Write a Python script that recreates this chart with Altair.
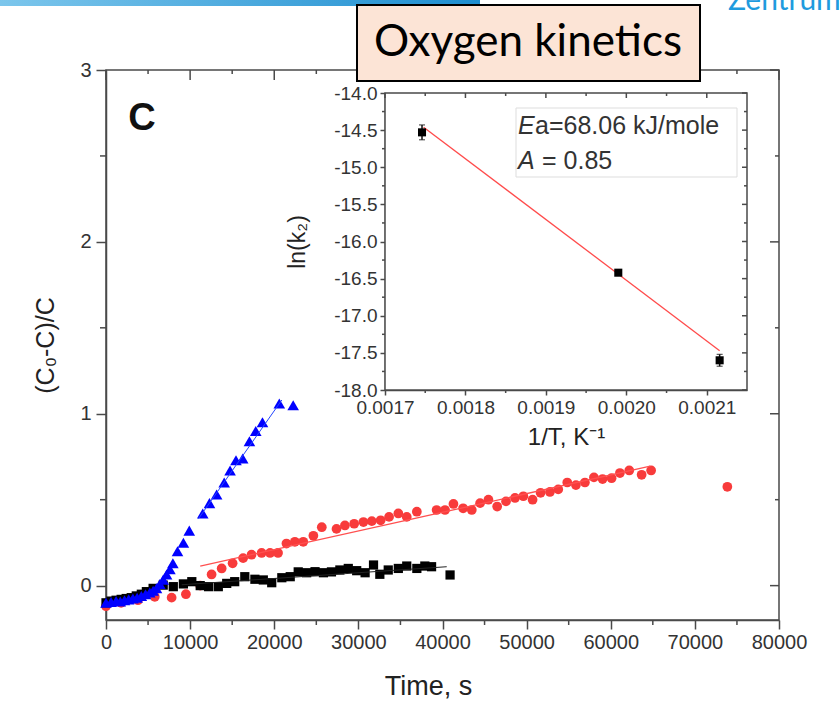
import altair as alt
import pandas as pd

# ---------------- main panel data ----------------
blue_t = [0, 600, 1200, 1700, 2200, 2700, 3200, 3700, 4200, 4700, 5200, 5600, 6000, 6400, 6800,
          7200, 7600, 7950, 8500, 9200, 9900, 11500, 12300, 13150, 14050, 14750, 15450, 16250,
          17050, 17800, 18600, 20600, 22250]
blue_v = [-0.10, -0.095, -0.09, -0.092, -0.085, -0.08, -0.075, -0.07, -0.06, -0.05, -0.04, -0.03,
          -0.015, 0.01, 0.035, 0.065, 0.095, 0.13, 0.20, 0.25, 0.32, 0.42, 0.48, 0.53, 0.60, 0.67,
          0.73, 0.74, 0.84, 0.90, 0.95, 1.06, 1.05]
blue_fit_t = [11000, 20900]
blue_fit_v = [0.39, 1.08]

red_t = [0, 1800, 3800, 5800, 7800, 9500, 11200, 12550, 13750, 15050, 16300, 17300, 18500, 19500,
         20450, 21450, 22450, 23450, 24650, 25650, 27400, 28400, 29500, 30600, 31600, 32650, 33650,
         34750, 35750, 36950, 39300, 40300, 41300, 42450, 43480, 44470, 45460, 46500, 47550, 48620,
         49610, 50710, 51660, 52770, 53760, 54830, 55860, 56930, 58000, 59030, 60100, 61090, 62200,
         63670, 64800, 73860]
red_v = [-0.12, -0.10, -0.085, -0.065, -0.07, -0.05, 0.0, 0.065, 0.10, 0.13, 0.16, 0.18, 0.19, 0.19,
         0.19, 0.245, 0.255, 0.255, 0.29, 0.34, 0.33, 0.35, 0.36, 0.37, 0.375, 0.38, 0.40,
         0.42, 0.40, 0.43, 0.44, 0.44, 0.475, 0.45, 0.44, 0.48, 0.50, 0.46, 0.49, 0.51,
         0.52, 0.50, 0.54, 0.545, 0.56, 0.60, 0.585, 0.60, 0.63, 0.62, 0.625, 0.655, 0.67,
         0.645, 0.67, 0.575]
red_fit_t = [11200, 64700]
red_fit_v = [0.114, 0.695]

black_t = [0, 600, 1200, 1800, 2400, 3000, 3600, 4200, 4800, 5600, 6800, 8000, 9200, 10200, 11200,
           12200, 13350, 14350, 15300, 16500, 17700, 18700, 19700, 20900, 21900, 22850, 23850,
           24850, 25850, 26800, 27800, 28800, 29800, 30800, 31800, 32550, 33550, 34750, 35750,
           36950, 37900, 38700, 40900]
black_v = [-0.10, -0.09, -0.085, -0.08, -0.075, -0.07, -0.06, -0.05, -0.035, -0.016, 0.003, -0.006,
           0.01, 0.023, 0.0, -0.006, -0.006, 0.013, 0.023, 0.052, 0.037, 0.033, 0.017, 0.046,
           0.052, 0.08, 0.075, 0.081, 0.075, 0.08, 0.091, 0.10, 0.087, 0.075, 0.12, 0.066,
           0.091, 0.10, 0.114, 0.10, 0.114, 0.11, 0.062]
black_fit_t = [9000, 40500]
black_fit_v = [0.005, 0.11]

main_x_major = [0, 10000, 20000, 30000, 40000, 50000, 60000, 70000, 80000]
main_x_minor = [5000, 15000, 25000, 35000, 45000, 55000, 65000, 75000]
main_y_major = [0, 1, 2, 3]
main_y_minor = [0.5, 1.5, 2.5]

# ---------------- inset data ----------------
inset_x = [0.001746, 0.00199, 0.002116]
inset_y = [-14.53, -16.42, -17.60]
inset_err = [0.10, 0.03, 0.08]
inset_fit_x = [0.001748, 0.002116]
inset_fit_y = [-14.46, -17.47]

inset_x_major = [0.0017, 0.0018, 0.0019, 0.0020, 0.0021]
inset_x_minor = [0.00175, 0.00185, 0.00195, 0.00205]
inset_y_major = [-18.0, -17.5, -17.0, -16.5, -16.0, -15.5, -15.0, -14.5, -14.0]
inset_y_minor = [-17.75, -17.25, -16.75, -16.25, -15.75, -15.25, -14.75, -14.25]

W, H = 673, 550
FONT = "Liberation Sans"
AX = "#4a4a4a"

# ---------------- main panel ----------------
mx_scale = alt.Scale(domain=[0, 80000], nice=False, zero=False)
my_scale = alt.Scale(domain=[-0.2, 3], nice=False, zero=False)
mx_axis = alt.Axis(orient="bottom", values=main_x_major, format="d", labelFontSize=20,
                   tickSize=9, labelPadding=3, title="Time, s", titleFontSize=27,
                   titlePadding=21, titleX=322, titleAlign="center",
                   labelFlush=False, labelOverlap=False)
my_axis = alt.Axis(orient="left", values=main_y_major, format="d", labelFontSize=20,
                   tickSize=10, labelPadding=5, title="(C₀-C)/C", titleFontSize=25,
                   titlePadding=21)
MX = lambda f="t": alt.X(f"{f}:Q", scale=mx_scale, axis=mx_axis)
MY = lambda f="v": alt.Y(f"{f}:Q", scale=my_scale, axis=my_axis)

def frame(**cols):
    return pd.DataFrame(cols)

red_pts = alt.Chart(frame(t=red_t, v=red_v)).mark_point(
    shape="circle", filled=True, size=95, color="#F83B3B", opacity=1).encode(x=MX(), y=MY())
red_line = alt.Chart(frame(t=red_fit_t, v=red_fit_v)).mark_line(
    color="#FF5050", strokeWidth=1.3).encode(x=MX(), y=MY())
black_pts = alt.Chart(frame(t=black_t, v=black_v)).mark_point(
    shape="square", filled=True, size=85, color="#000000", opacity=1).encode(x=MX(), y=MY())
black_line = alt.Chart(frame(t=black_fit_t, v=black_fit_v)).mark_line(
    color="#222222", strokeWidth=1).encode(x=MX(), y=MY())
blue_pts = alt.Chart(frame(t=blue_t, v=blue_v)).mark_point(
    shape="triangle-up", filled=True, size=135, color="#0000FF", opacity=1).encode(x=MX(), y=MY())
blue_line = alt.Chart(frame(t=blue_fit_t, v=blue_fit_v)).mark_line(
    color="#2244FF", strokeWidth=1).encode(x=MX(), y=MY())

tick_style = dict(color=AX, strokeWidth=1.5)
bot_minor = alt.Chart(frame(t=main_x_minor)).mark_rule(**tick_style).encode(
    x=MX(), y=alt.value(H), y2=alt.value(H + 5))
top_major = alt.Chart(frame(t=main_x_major)).mark_rule(**tick_style).encode(
    x=MX(), y=alt.value(0), y2=alt.value(10))
top_minor = alt.Chart(frame(t=main_x_minor)).mark_rule(**tick_style).encode(
    x=MX(), y=alt.value(0), y2=alt.value(4))
left_minor = alt.Chart(frame(v=main_y_minor)).mark_rule(**tick_style).encode(
    y=MY(), x=alt.value(0), x2=alt.value(-6))
right_major = alt.Chart(frame(v=main_y_major)).mark_rule(**tick_style).encode(
    y=MY(), x=alt.value(W), x2=alt.value(W - 9))
right_minor = alt.Chart(frame(v=main_y_minor)).mark_rule(**tick_style).encode(
    y=MY(), x=alt.value(W), x2=alt.value(W - 4))

main = alt.layer(red_pts, red_line, black_pts, black_line, blue_pts, blue_line,
                 bot_minor, top_major, top_minor, left_minor, right_major, right_minor)

# ---------------- inset panel ----------------
IX0, IX1 = 279, 641      # pixel extent of inset plot (x)
IY0, IY1 = 23, 320       # pixel extent of inset plot (y, top/bottom)
ix_scale = alt.Scale(domain=[0.0017, 0.00215], range=[IX0, IX1], nice=False, zero=False)
iy_scale = alt.Scale(domain=[-18, -14], range=[IY1, IY0], nice=False, zero=False)
ix_axis = alt.Axis(orient="bottom", offset=IY1 - H, values=inset_x_major, format=".4f",
                   labelFontSize=19, tickSize=5, labelPadding=3, title="1/T, K⁻¹",
                   titleFontSize=24, titlePadding=8, labelFlush=False, labelOverlap=False)
iy_axis = alt.Axis(orient="left", offset=-IX0, values=inset_y_major,
                   labelExpr="replace(format(datum.value, '.1f'), '\u2212', '-')",
                   labelFontSize=19, tickSize=5, labelPadding=3, title="ln(k₂)",
                   titleFontSize=23, titlePadding=24, labelFlush=False, labelOverlap=False)
IX = lambda f="a": alt.X(f"{f}:Q", scale=ix_scale, axis=ix_axis)
IY = lambda f="b": alt.Y(f"{f}:Q", scale=iy_scale, axis=iy_axis)

inset_df = frame(a=inset_x, b=inset_y,
                 lo=[y - e for y, e in zip(inset_y, inset_err)],
                 hi=[y + e for y, e in zip(inset_y, inset_err)])

inset_bg = alt.Chart(frame(a=[0.0017], a2=[0.00215], b=[-18.0], b2=[-14.0])).mark_rect(
    fill="white", stroke=AX, strokeWidth=1.5).encode(
    x=IX(), x2="a2:Q", y=IY(), y2="b2:Q")
inset_fit = alt.Chart(frame(a=inset_fit_x, b=inset_fit_y)).mark_line(
    color="#FF4B4B", strokeWidth=1.3).encode(x=IX(), y=IY())
inset_err_rule = alt.Chart(inset_df).mark_rule(color="#111", strokeWidth=1.5).encode(
    x=IX(), y=IY("lo"), y2="hi:Q")
inset_cap_lo = alt.Chart(inset_df).mark_tick(orient="horizontal", size=6, thickness=1.2,
                                             color="#111").encode(x=IX(), y=IY("lo"))
inset_cap_hi = alt.Chart(inset_df).mark_tick(orient="horizontal", size=6, thickness=1.2,
                                             color="#111").encode(x=IX(), y=IY("hi"))
inset_pts = alt.Chart(inset_df).mark_point(shape="square", filled=True, size=65,
                                           color="#000", opacity=1).encode(x=IX(), y=IY())

i_top_major = alt.Chart(frame(a=inset_x_major)).mark_rule(**tick_style).encode(
    x=IX(), y=alt.value(IY0), y2=alt.value(IY0 + 5))
i_top_minor = alt.Chart(frame(a=inset_x_minor)).mark_rule(**tick_style).encode(
    x=IX(), y=alt.value(IY0), y2=alt.value(IY0 + 3))
i_bot_minor = alt.Chart(frame(a=inset_x_minor)).mark_rule(**tick_style).encode(
    x=IX(), y=alt.value(IY1), y2=alt.value(IY1 + 3))
i_left_minor = alt.Chart(frame(b=inset_y_minor)).mark_rule(**tick_style).encode(
    y=IY(), x=alt.value(IX0), x2=alt.value(IX0 - 3))
i_right_major = alt.Chart(frame(b=inset_y_major)).mark_rule(**tick_style).encode(
    y=IY(), x=alt.value(IX1), x2=alt.value(IX1 - 5))
i_right_minor = alt.Chart(frame(b=inset_y_minor)).mark_rule(**tick_style).encode(
    y=IY(), x=alt.value(IX1), x2=alt.value(IX1 - 3))

inset = alt.layer(inset_bg, inset_fit, inset_err_rule, inset_cap_lo, inset_cap_hi, inset_pts,
                  i_top_major, i_top_minor, i_bot_minor, i_left_minor, i_right_major,
                  i_right_minor)

# ---------------- annotations ----------------
one = alt.Data(values=[{}])

def txt(text, x, y, size, **kw):
    return alt.Chart(one).mark_text(text=text, fontSize=size, **kw).encode(
        x=alt.value(x), y=alt.value(y))

def box(x, x2, y, y2, **kw):
    return alt.Chart(one).mark_rect(**kw).encode(
        x=alt.value(x), x2=alt.value(x2), y=alt.value(y), y2=alt.value(y2))

eq_box = box(410, 631, 38, 107, fill="white", stroke="#dddddd", strokeWidth=1)
eq1a = txt("E", 412, 64, 25, font=FONT, fontStyle="italic", align="left", baseline="alphabetic", color="#333")
eq1b = txt("a=68.06 kJ/mole", 429, 64, 25, font=FONT, align="left", baseline="alphabetic", color="#333")
eq2a = txt("A", 412, 99, 25, font=FONT, fontStyle="italic", align="left", baseline="alphabetic", color="#333")
eq2b = txt("= 0.85", 436, 99, 25, font=FONT, align="left", baseline="alphabetic", color="#333")

panel_c = txt("C", 36, 49, 38, font=FONT, fontWeight="bold", align="center", baseline="middle", color="#111")

header_bar = box(-106, 374, -70, -64, color=alt.Gradient(
    gradient="linear", x1=0, x2=1, y1=0, y2=0,
    stops=[alt.GradientStop(color="#7CC6EC", offset=0), alt.GradientStop(color="#1E8ED0", offset=1)]))
zentrum = txt("Zentrum", 622, -60, 30, font="Lato", align="left", baseline="alphabetic", color="#1F9BDE")

title_box = box(251, 594, -65, 11, fill="#FCE4D6", stroke="#000", strokeWidth=2)
title_txt = txt("Oxygen kinetics", 422, -27, 44, font="Lato", align="center", baseline="middle", color="#000")

chart = alt.layer(
    main, inset, eq_box, eq1a, eq1b, eq2a, eq2b, panel_c, header_bar, zentrum, title_box, title_txt
).resolve_scale(
    x="independent", y="independent"
).properties(
    width=W, height=H,
    padding={"left": 106, "top": 70, "right": 61, "bottom": 86},
    autosize=alt.AutoSizeParams(type="none"),
    background="white",
).configure_view(
    stroke=AX, strokeWidth=1.5
).configure_axis(
    grid=False, domainColor=AX, domainWidth=1.5, tickColor=AX, tickWidth=1.5,
    labelFont=FONT, titleFont=FONT, labelColor="#333", titleColor="#222",
    titleFontWeight="normal"
)

chart.save("out.html", embed_options={"renderer": "svg", "actions": False})
